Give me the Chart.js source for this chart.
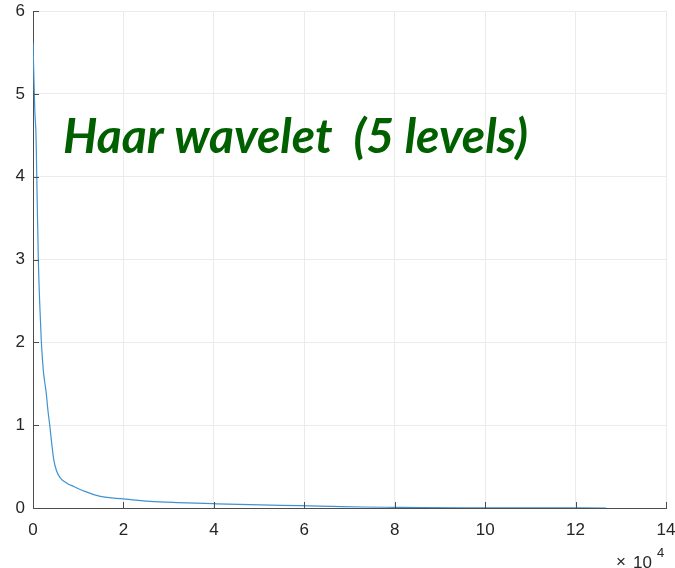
<!DOCTYPE html>
<html>
<head>
<meta charset="utf-8">
<script src="https://cdn.jsdelivr.net/npm/chart.js@4"></script>
<style>
  html, body { margin: 0; padding: 0; background: #ffffff; }
  #wrap { width: 675px; height: 568px; position: relative; }
</style>
</head>
<body>
<div id="wrap"><canvas id="c"></canvas></div>
<script>
// ---- data ----
const xValues = [0, 150, 400, 670, 900, 1180, 1500, 1850, 2300, 2900, 3300, 3700, 4200, 4600, 5200, 6070, 7500, 9000, 11500, 14900, 20000, 25900, 32000, 39900, 48000, 59000, 66000, 73000, 80000, 86000, 95000, 105000, 115000, 126800];
const yValues = [5.62, 5.3, 4.8, 4.49, 3.8, 3.0, 2.45, 2.0, 1.65, 1.4, 1.18, 1.0, 0.75, 0.58, 0.45, 0.36, 0.3, 0.26, 0.2, 0.14, 0.11, 0.08, 0.065, 0.052, 0.04, 0.028, 0.02, 0.012, 0.008, 0.005, 0.003, 0.002, 0.001, 0.0];
const xTickLabels = ['0', '2', '4', '6', '8', '10', '12', '14'];
const yTickLabels = ['0', '1', '2', '3', '4', '5', '6'];
const titleText = 'Haar wavelet  (5 levels)';

const points = xValues.map((x, i) => ({ x: x, y: yValues[i] }));

const axisColor = '#4d4d4d';
const textColor = '#262626';
const gridColor = '#ebebeb';
const tickFont = { family: '"Liberation Sans", Arial, sans-serif', size: 17 };

const overlay = {
  id: 'overlay',
  afterDraw(chart) {
    const ctx = chart.ctx;
    const xs = chart.scales.x, ys = chart.scales.y;
    const area = chart.chartArea;
    ctx.save();
    // inward tick marks
    ctx.strokeStyle = axisColor;
    ctx.lineWidth = 1;
    ctx.beginPath();
    xs.ticks.forEach(t => {
      const px = Math.round(xs.getPixelForValue(t.value)) + 0.5;
      ctx.moveTo(px, area.bottom);
      ctx.lineTo(px, area.bottom - 6);
    });
    ys.ticks.forEach(t => {
      const py = Math.round(ys.getPixelForValue(t.value)) + 0.5;
      ctx.moveTo(area.left, py);
      ctx.lineTo(area.left + 6, py);
    });
    ctx.stroke();

    // exponent label x10^4
    ctx.fillStyle = textColor;
    ctx.textBaseline = 'alphabetic';
    ctx.textAlign = 'left';
    ctx.font = '17px "Liberation Sans", Arial, sans-serif';
    ctx.fillText('\u00d7', 616, 567);
    ctx.fillText('10', 633, 568);
    ctx.font = '13px "Liberation Sans", Arial, sans-serif';
    ctx.fillText('4', 657, 557);

    // title annotation
    ctx.fillStyle = '#006000';
    let size = 40;
    ctx.font = 'italic bold ' + size + 'px Lato, "Open Sans", sans-serif';
    const w = ctx.measureText(titleText).width;
    size = size * 465 / w;
    ctx.font = 'italic bold ' + size.toFixed(2) + 'px Lato, "Open Sans", sans-serif';
    ctx.fillText(titleText, 63, 153);
    ctx.restore();
  }
};

new Chart(document.getElementById('c'), {
  type: 'line',
  data: {
    datasets: [{
      data: points,
      borderColor: '#3f93d3',
      borderWidth: 1.2,
      pointRadius: 0,
      fill: false,
      cubicInterpolationMode: 'monotone'
    }]
  },
  options: {
    responsive: true,
    maintainAspectRatio: false,
    animation: false,
    events: [],
    layout: { padding: { top: 11, right: 9, left: 0, bottom: 0 } },
    plugins: { legend: { display: false }, tooltip: { enabled: false }, title: { display: false } },
    scales: {
      x: {
        type: 'linear',
        min: 0,
        max: 140000,
        afterFit(s) { s.height = 60; s.paddingLeft = 0; s.paddingRight = 0; },
        afterBuildTicks(s) { s.ticks = xTickLabels.map(v => ({ value: Number(v) * 10000 })); },
        ticks: {
          callback: (v) => String(v / 10000),
          font: tickFont,
          color: textColor,
          padding: 12,
          maxRotation: 0,
          autoSkip: false
        },
        grid: { color: gridColor, drawTicks: false },
        border: { display: true, color: axisColor, width: 1 }
      },
      y: {
        type: 'linear',
        min: 0,
        max: 6,
        afterFit(s) { s.width = 33; s.paddingTop = 0; s.paddingBottom = 0; },
        afterBuildTicks(s) { s.ticks = yTickLabels.map(v => ({ value: Number(v) })); },
        ticks: {
          callback: (v) => String(v),
          font: tickFont,
          color: textColor,
          padding: 8,
          autoSkip: false
        },
        grid: { color: gridColor, drawTicks: false },
        border: { display: true, color: axisColor, width: 1 }
      }
    }
  },
  plugins: [overlay]
});
</script>
</body>
</html>
